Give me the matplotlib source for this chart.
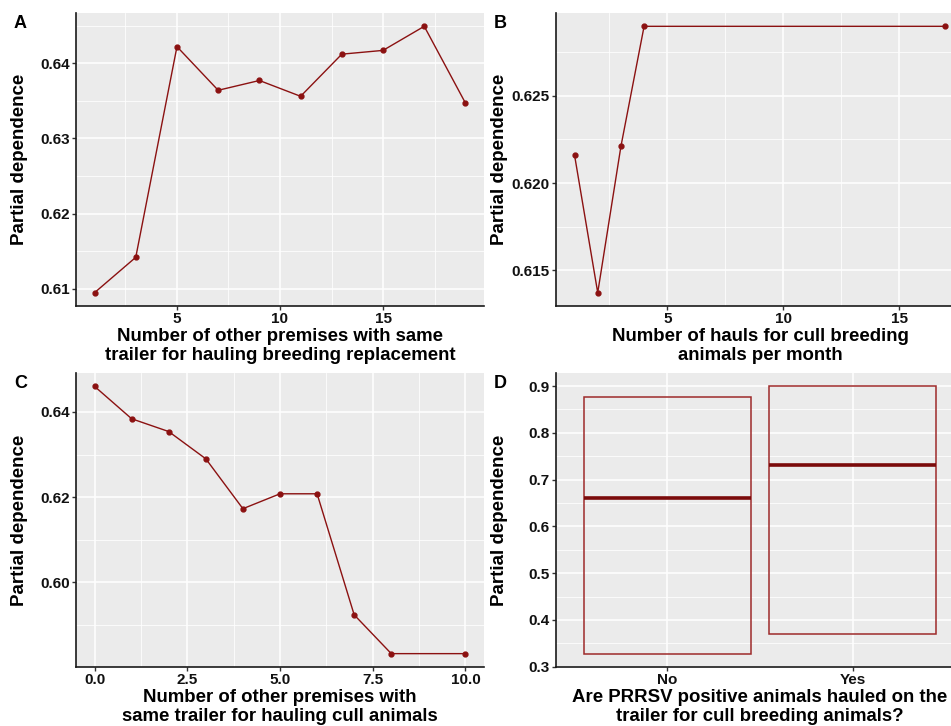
import matplotlib
matplotlib.use('Agg')
import matplotlib.pyplot as plt
from matplotlib.ticker import FixedLocator

plt.rcParams['font.family'] = ['Liberation Sans', 'DejaVu Sans']
plt.rcParams['font.weight'] = 'bold'

# ---------------- data ----------------
a_x = [1, 3, 5, 7, 9, 11, 13, 15, 17, 19]
a_y = [0.6095, 0.6142, 0.6422, 0.6364, 0.6377, 0.6356, 0.6412, 0.6417, 0.6449, 0.6347]
a_xticks = [5, 10, 15]
a_xticklabels = ['5', '10', '15']
a_yticks = [0.61, 0.62, 0.63, 0.64]
a_yticklabels = ['0.61', '0.62', '0.63', '0.64']

b_x = [1, 2, 3, 4, 17]
b_y = [0.6216, 0.6137, 0.6221, 0.6290, 0.6290]
b_xticks = [5, 10, 15]
b_xticklabels = ['5', '10', '15']
b_yticks = [0.615, 0.620, 0.625]
b_yticklabels = ['0.615', '0.620', '0.625']

c_x = [0, 1, 2, 3, 4, 5, 6, 7, 8, 10]
c_y = [0.6460, 0.6384, 0.6354, 0.6290, 0.6173, 0.6208, 0.6208, 0.5924, 0.5833, 0.5833]
c_xticks = [0.0, 2.5, 5.0, 7.5, 10.0]
c_xticklabels = ['0.0', '2.5', '5.0', '7.5', '10.0']
c_yticks = [0.60, 0.62, 0.64]
c_yticklabels = ['0.60', '0.62', '0.64']

d_categories = ['No', 'Yes']
d_mid = [0.6604, 0.7305]
d_low = [0.3279, 0.3708]
d_high = [0.8757, 0.8993]
d_yticks = [0.3, 0.4, 0.5, 0.6, 0.7, 0.8, 0.9]
d_yticklabels = ['0.3', '0.4', '0.5', '0.6', '0.7', '0.8', '0.9']

xlabels = ['Number of other premises with same\ntrailer for hauling breeding replacement',
           'Number of hauls for cull breeding\nanimals per month',
           'Number of other premises with\nsame trailer for hauling cull animals',
           'Are PRRSV positive animals hauled on the\ntrailer for cull breeding animals?']
letters = ['A', 'B', 'C', 'D']

# ---------------- figure ----------------
W, H = 951, 726
fig = plt.figure(figsize=(W / 100, H / 100), dpi=100)
fig.patch.set_facecolor('white')

LINE = '#8B1111'
EDGE = '#9E2A2A'


def make_ax(l, r, t, b):
    return fig.add_axes([l / W, 1 - b / H, (r - l) / W, (b - t) / H])


def expand(v):
    lo, hi = min(v), max(v)
    d = (hi - lo) * 0.05
    return lo - d, hi + d


def midpoints(t):
    return [(t[i] + t[i + 1]) / 2 for i in range(len(t) - 1)]


def style(ax, xlabel, xmaj, xmin_, ymaj, ymin_, xlab=None, ylab=None):
    ax.set_facecolor('#EBEBEB')
    for s in ['top', 'right']:
        ax.spines[s].set_visible(False)
    for s in ['left', 'bottom']:
        ax.spines[s].set_color('#1a1a1a')
        ax.spines[s].set_linewidth(1.2)
    ax.set_xticks(xmaj)
    if xlab is not None:
        ax.set_xticklabels(xlab)
    ax.set_yticks(ymaj)
    ax.set_yticklabels(ylab)
    ax.xaxis.set_minor_locator(FixedLocator(xmin_))
    ax.yaxis.set_minor_locator(FixedLocator(ymin_))
    ax.grid(which='major', color='white', lw=1.1)
    ax.grid(which='minor', color='white', lw=0.55)
    ax.set_axisbelow(True)
    ax.tick_params(which='major', length=3, width=1, color='#333333',
                   labelsize=11, pad=1.5, labelcolor='#111111')
    ax.tick_params(which='minor', length=0)
    ax.set_xlabel(xlabel, fontsize=13.4, fontweight='bold', labelpad=1, linespacing=1.2)
    ax.set_ylabel('Partial dependence', fontsize=13.5, fontweight='bold')
    ax.yaxis.set_label_coords(-0.117, 0.5)


axA = make_ax(76, 484, 13, 306)
axB = make_ax(556, 964, 13, 306)
axC = make_ax(76, 484, 373, 667)
axD = make_ax(556, 964, 373, 667)

# A
axA.plot(a_x, a_y, color=LINE, lw=1.0, marker='o', ms=3.5, zorder=3)
axA.set_xlim(*expand(a_x))
axA.set_ylim(*expand(a_y))
style(axA, xlabels[0], a_xticks, [2.5, 7.5, 12.5, 17.5], a_yticks,
      [0.605, 0.615, 0.625, 0.635, 0.645], a_xticklabels, a_yticklabels)

# B
axB.plot(b_x, b_y, color=LINE, lw=1.0, marker='o', ms=3.5, zorder=3)
axB.set_xlim(*expand(b_x))
axB.set_ylim(*expand(b_y))
style(axB, xlabels[1], b_xticks, [2.5, 7.5, 12.5, 17.5], b_yticks,
      [0.6125, 0.6175, 0.6225, 0.6275], b_xticklabels, b_yticklabels)

# C
axC.plot(c_x, c_y, color=LINE, lw=1.0, marker='o', ms=3.5, zorder=3)
axC.set_xlim(*expand(c_x))
axC.set_ylim(*expand(c_y))
style(axC, xlabels[2], c_xticks, midpoints(c_xticks), c_yticks,
      [0.59, 0.61, 0.63], c_xticklabels, c_yticklabels)

# D
pos = list(range(1, len(d_categories) + 1))
heights = [h - l for h, l in zip(d_high, d_low)]
axD.bar(pos, heights, bottom=d_low, width=0.9, fill=False, edgecolor=EDGE, lw=1.1, zorder=3)
axD.hlines(d_mid, [p - 0.45 for p in pos], [p + 0.45 for p in pos], color='#7A0A0A', lw=2.6, zorder=4)
axD.set_xlim(0.4, len(d_categories) + 0.6)
axD.set_ylim(*expand(d_low + d_high))
style(axD, xlabels[3], pos, [], d_yticks, midpoints(d_yticks),
      d_categories, d_yticklabels)

for ax, letter in zip([axA, axB, axC, axD], letters):
    bb = ax.get_position()
    fig.text(bb.x0 - 55.5 / W, bb.y1 - 10 / H, letter, fontsize=13, fontweight='bold',
             ha='center', va='center')

fig.savefig('out.png', dpi=100)
